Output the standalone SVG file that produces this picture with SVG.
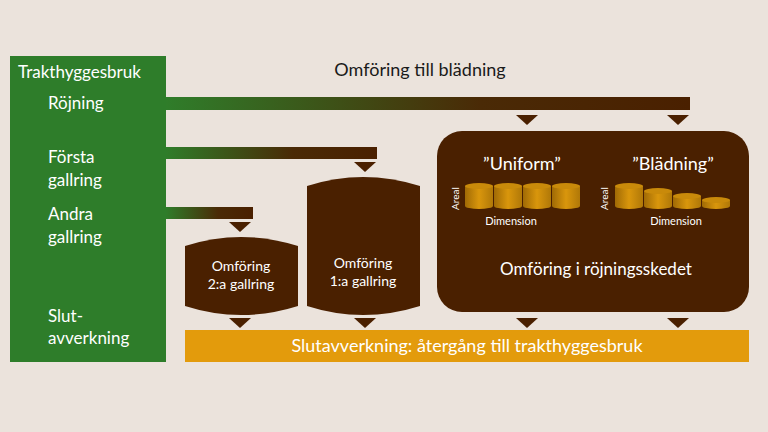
<svg xmlns="http://www.w3.org/2000/svg" width="768" height="432" viewBox="0 0 768 432">
<defs>
<linearGradient id="gb" x1="0" x2="1" y1="0" y2="0"><stop offset="0" stop-color="#2f7d2a"/><stop offset="0.6" stop-color="#4a2a06"/><stop offset="1" stop-color="#4a2000"/></linearGradient>
<linearGradient id="cyl" x1="0" x2="1"><stop offset="0" stop-color="#a06a05"/><stop offset="0.5" stop-color="#d9960c"/><stop offset="1" stop-color="#b07808"/></linearGradient>
<style>
.t{font-family:"Lato","Open Sans",sans-serif;fill:#fff}
.br{fill:#4a2000}
.ar{fill:#4a2000}
.ct{fill:#d9a010}
</style>
</defs>
<rect width="768" height="432" fill="#ebe3dc"/>
<g id="left"><rect x="10" y="56" width="156" height="306" fill="#2e7d2a"/>
<text class="t" x="18" y="78" font-size="17">Trakthyggesbruk</text>
<text class="t" x="48" y="109" font-size="17">Röjning</text>
<text class="t" x="48" y="163" font-size="17">Första</text><text class="t" x="48" y="186" font-size="17">gallring</text>
<text class="t" x="48" y="220" font-size="17">Andra</text><text class="t" x="48" y="243" font-size="17">gallring</text>
<text class="t" x="48" y="322" font-size="17">Slut-</text><text class="t" x="48" y="344" font-size="17">avverkning</text></g>
<text x="420" y="76" font-family="Lato,sans-serif" font-size="18" fill="#1a1a1a" text-anchor="middle">Omföring till blädning</text>
<g id="connectors">
<rect x="166" y="97" width="524" height="13" fill="url(#gb)"/>
<rect x="166" y="147" width="211" height="12" fill="url(#gb)"/>
<rect x="166" y="207" width="87" height="12" fill="url(#gb)"/>
<g class="ar"><path d="M229 222h22l-11 10z"/><path d="M354 162h22l-11 10z"/><path d="M516 115h22l-11 10z"/><path d="M667 115h22l-11 10z"/>
<path d="M229 318h22l-11 10z"/><path d="M354 318h22l-11 10z"/><path d="M516 318h22l-11 10z"/><path d="M667 318h22l-11 10z"/></g>
</g>
<g id="c2"><path class="br" d="M185 246Q241 228 298 246V306Q241 324 185 306Z"/>
<text class="t" x="241" y="271" font-size="14" text-anchor="middle">Omföring</text><text class="t" x="241" y="289" font-size="14" text-anchor="middle">2:a gallring</text></g>
<g id="c1"><path class="br" d="M307 186Q363 168 420 186V306Q363 324 307 306Z"/>
<text class="t" x="363" y="268" font-size="14" text-anchor="middle">Omföring</text><text class="t" x="363" y="286" font-size="14" text-anchor="middle">1:a gallring</text></g>
<g id="box"><rect class="br" x="437" y="131" width="312" height="181" rx="25"/>
<text class="t" x="522" y="170" font-size="18" text-anchor="middle">”Uniform”</text>
<text class="t" x="673" y="170" font-size="18" text-anchor="middle">”Blädning”</text>
<g fill="url(#cyl)">
<path d="M465 186h28v20a14 3 0 0 1-28 0z"/><ellipse cx="479" cy="186" rx="14" ry="3" fill="#c98a0a"/>
<path d="M494 186h28v20a14 3 0 0 1-28 0z"/><ellipse cx="508" cy="186" rx="14" ry="3" fill="#c98a0a"/>
<path d="M523 186h28v20a14 3 0 0 1-28 0z"/><ellipse cx="537" cy="186" rx="14" ry="3" fill="#c98a0a"/>
<path d="M552 186h28v20a14 3 0 0 1-28 0z"/><ellipse cx="566" cy="186" rx="14" ry="3" fill="#c98a0a"/>
<path d="M615 186h28v20a14 3 0 0 1-28 0z"/><ellipse cx="629" cy="186" rx="14" ry="3" fill="#c98a0a"/>
<path d="M644 191h28v15a14 3 0 0 1-28 0z"/><ellipse cx="658" cy="191" rx="14" ry="3" fill="#c98a0a"/>
<path d="M673 196h28v10a14 3 0 0 1-28 0z"/><ellipse cx="687" cy="196" rx="14" ry="3" fill="#c98a0a"/>
<path d="M702 200h28v6a14 3 0 0 1-28 0z"/><ellipse cx="716" cy="200" rx="14" ry="3" fill="#c98a0a"/>
</g>
<text class="t" font-size="10" transform="translate(459 210) rotate(-90)">Areal</text>
<text class="t" font-size="10" transform="translate(608 210) rotate(-90)">Areal</text>
<text class="t" x="511" y="225" font-size="11" text-anchor="middle">Dimension</text>
<text class="t" x="676" y="225" font-size="11" text-anchor="middle">Dimension</text>
<text class="t" x="596" y="275" font-size="17" text-anchor="middle">Omföring i röjningsskedet</text></g>
<g id="bottom"><rect x="185" y="330" width="564" height="32" fill="#e39b0c"/>
<text class="t" x="467" y="352" font-size="18" text-anchor="middle">Slutavverkning: återgång till trakthyggesbruk</text></g>
</svg>
